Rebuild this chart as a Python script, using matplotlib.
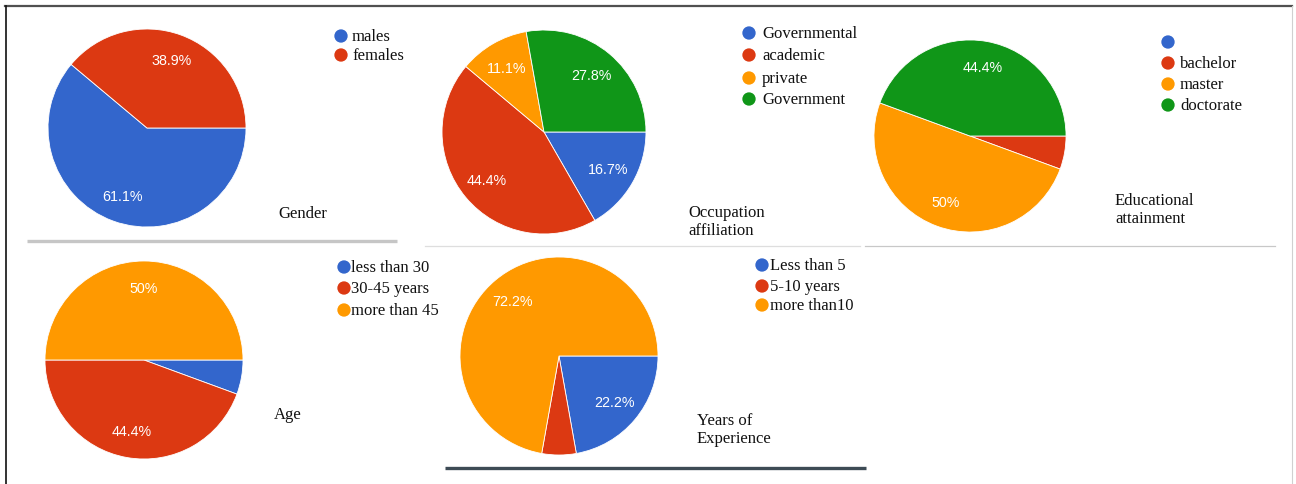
import matplotlib
matplotlib.use("Agg")
import matplotlib.pyplot as plt

W, H = 1296, 485

BLUE, RED, ORANGE, GREEN = "#3366cc", "#dc3912", "#ff9900", "#109618"

gender_labels = ["males", "females"]
gender_values = [61.1, 38.9]

occupation_labels = ["Governmental", "academic", "private", "Government"]
occupation_values = [16.7, 44.4, 11.1, 27.8]

education_labels = ["", "bachelor", "master", "doctorate"]
education_values = [0.0, 5.6, 50.0, 44.4]

age_labels = ["less than 30", "30-45 years", "more than 45"]
age_values = [5.6, 44.4, 50.0]

exp_labels = ["Less than 5", "5-10 years", "more than10"]
exp_values = [22.2, 5.6, 72.2]

SANS = ["Liberation Sans", "DejaVu Sans"]
SERIF = ["Liberation Serif", "DejaVu Serif"]


def fx(x):
    return x / W


def fy(y):
    return 1 - y / H


def pct_fmt(p):
    return f"{p:.1f}%".replace(".0%", "%") if p >= 10 else ""


def draw_pie(fig, values, colors, cx, cy, r):
    ax = fig.add_axes([fx(cx - r), fy(cy + r), 2 * r / W, 2 * r / H])
    ax.pie(values, colors=colors, startangle=0, counterclock=False, radius=1,
           autopct=pct_fmt, pctdistance=0.73,
           wedgeprops=dict(edgecolor="white", linewidth=0.6),
           textprops=dict(color="white", fontsize=10.3, family=SANS))
    ax.set_xlim(-1.01, 1.01)
    ax.set_ylim(-1.01, 1.01)
    ax.set_aspect("equal")
    ax.axis("off")
    return ax


def draw_legend(ov, labels, colors, xc, xt, ys):
    for lab, col, y in zip(labels, colors, ys):
        ov.scatter([xc], [y], s=92, color=col, edgecolors="none", zorder=3)
        ov.text(xt, y, lab, fontsize=12, family=SERIF, va="center", ha="left",
                color="#111111")


fig = plt.figure(figsize=(W / 100, H / 100), dpi=100)
fig.patch.set_facecolor("white")

draw_pie(fig, gender_values, [BLUE, RED], 147, 129, 100)
draw_pie(fig, occupation_values, [BLUE, RED, ORANGE, GREEN], 544, 133, 103)
draw_pie(fig, education_values, [BLUE, RED, ORANGE, GREEN], 970, 137, 97)
draw_pie(fig, age_values, [BLUE, RED, ORANGE], 144, 361, 100)
draw_pie(fig, exp_values, [BLUE, RED, ORANGE], 559, 357, 100)

# overlay in pixel units for legends, titles and rules
ov = fig.add_axes([0, 0, 1, 1], zorder=5)
ov.set_xlim(0, W)
ov.set_ylim(H, 0)
ov.axis("off")
ov.patch.set_alpha(0)

draw_legend(ov, gender_labels, [BLUE, RED], 341, 352, [37, 56])
draw_legend(ov, occupation_labels, [BLUE, RED, ORANGE, GREEN], 749, 762, [34, 56, 79, 100])
draw_legend(ov, education_labels, [BLUE, RED, ORANGE, GREEN], 1168, 1180, [43, 64, 85, 106])
draw_legend(ov, age_labels, [BLUE, RED, ORANGE], 344, 351, [268, 289, 311])
draw_legend(ov, exp_labels, [BLUE, RED, ORANGE], 762, 770, [266, 287, 306])

titles = [("Gender", 278, 214), ("Occupation\naffiliation", 688, 222),
          ("Educational\nattainment", 1115, 210), ("Age", 274, 415),
          ("Years of\nExperience", 697, 430)]
for t, x, y in titles:
    ov.text(x, y, t, fontsize=12, family=SERIF, va="center", ha="left",
            color="#111111", linespacing=1.1)

# separator rules and frame
ov.plot([27, 397], [242, 242], color="#c6c6c6", lw=2.4, solid_capstyle="butt")
ov.plot([425, 860], [247, 247], color="#dedede", lw=0.9)
ov.plot([865, 1275], [247, 247], color="#c8c8c8", lw=0.9)
ov.plot([445, 866], [469, 469], color="#3d4b55", lw=2.4, solid_capstyle="butt")
ov.plot([5, 1292], [7, 7], color="#505050", lw=1.6)
ov.plot([6, 6], [7, 485], color="#111111", lw=1.2)
ov.plot([1292, 1292], [7, 485], color="#d0d0d0", lw=0.8)

fig.savefig("out.png", dpi=100, facecolor="white")
